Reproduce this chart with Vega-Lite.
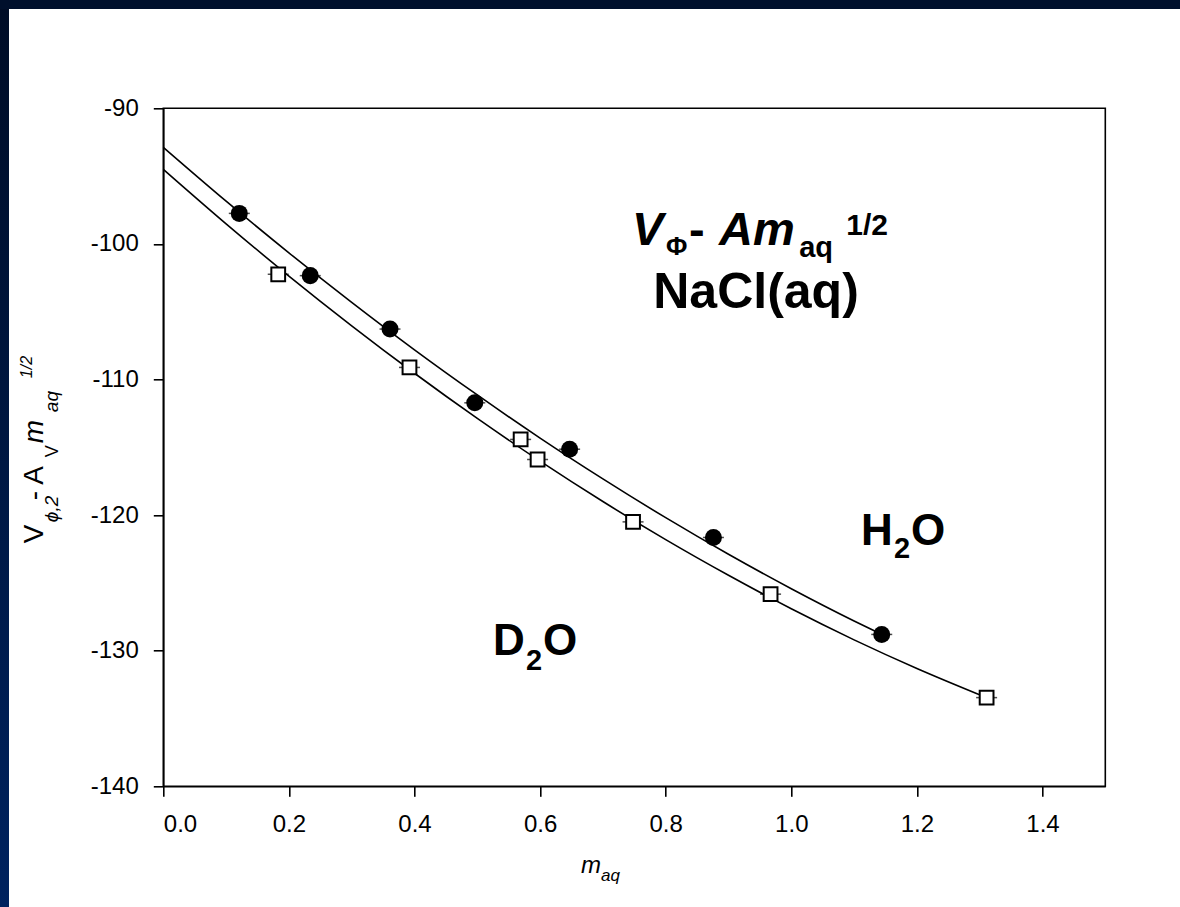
{
  "$schema": "https://vega.github.io/schema/vega-lite/v6.json",
  "width": 942,
  "height": 678,
  "autosize": {"type": "none"},
  "padding": {"left": 163.3, "top": 108.3, "right": 74.7, "bottom": 120.7},
  "background": "white",
  "config": {
    "font": "Liberation Sans",
    "view": {"stroke": "black", "strokeWidth": 1.6},
    "axis": {
      "grid": false,
      "domainColor": "black",
      "domainWidth": 1.6,
      "tickColor": "black",
      "tickWidth": 1.6,
      "tickSize": 10,
      "labelFont": "Liberation Sans",
      "labelFontSize": 24,
      "labelColor": "black",
      "zindex": 1
    }
  },
  "data": {"values": [{}]},
  "datasets": {
    "points": [
      {"solvent": "H2O", "m": 0.121, "v": -97.75},
      {"solvent": "H2O", "m": 0.234, "v": -102.34},
      {"solvent": "H2O", "m": 0.361, "v": -106.28},
      {"solvent": "H2O", "m": 0.496, "v": -111.72},
      {"solvent": "H2O", "m": 0.647, "v": -115.14},
      {"solvent": "H2O", "m": 0.876, "v": -121.65},
      {"solvent": "H2O", "m": 1.144, "v": -128.8},
      {"solvent": "D2O", "m": 0.183, "v": -102.24},
      {"solvent": "D2O", "m": 0.392, "v": -109.11},
      {"solvent": "D2O", "m": 0.569, "v": -114.42},
      {"solvent": "D2O", "m": 0.596, "v": -115.9},
      {"solvent": "D2O", "m": 0.748, "v": -120.5},
      {"solvent": "D2O", "m": 0.967, "v": -125.83},
      {"solvent": "D2O", "m": 1.311, "v": -133.46}
    ],
    "fits": [
      {"solvent": "H2O", "m": 0.0, "v": -92.88},
      {"solvent": "H2O", "m": 0.1, "v": -96.85},
      {"solvent": "H2O", "m": 0.2, "v": -100.66},
      {"solvent": "H2O", "m": 0.3, "v": -104.31},
      {"solvent": "H2O", "m": 0.4, "v": -107.81},
      {"solvent": "H2O", "m": 0.5, "v": -111.14},
      {"solvent": "H2O", "m": 0.6, "v": -114.32},
      {"solvent": "H2O", "m": 0.7, "v": -117.33},
      {"solvent": "H2O", "m": 0.8, "v": -120.19},
      {"solvent": "H2O", "m": 0.9, "v": -122.89},
      {"solvent": "H2O", "m": 1.0, "v": -125.43},
      {"solvent": "H2O", "m": 1.1, "v": -127.81},
      {"solvent": "H2O", "m": 1.144, "v": -128.8},
      {"solvent": "D2O", "m": 0.0, "v": -94.5},
      {"solvent": "D2O", "m": 0.1, "v": -98.52},
      {"solvent": "D2O", "m": 0.2, "v": -102.37},
      {"solvent": "D2O", "m": 0.3, "v": -106.04},
      {"solvent": "D2O", "m": 0.4, "v": -109.54},
      {"solvent": "D2O", "m": 0.5, "v": -112.87},
      {"solvent": "D2O", "m": 0.6, "v": -116.02},
      {"solvent": "D2O", "m": 0.7, "v": -119.0},
      {"solvent": "D2O", "m": 0.8, "v": -121.81},
      {"solvent": "D2O", "m": 0.9, "v": -124.44},
      {"solvent": "D2O", "m": 1.0, "v": -126.91},
      {"solvent": "D2O", "m": 1.1, "v": -129.2},
      {"solvent": "D2O", "m": 1.2, "v": -131.31},
      {"solvent": "D2O", "m": 1.311, "v": -133.46}
    ]
  },
  "layer": [
    {
      "mark": {"type": "rect", "color": {"gradient": "linear", "x1": 0, "y1": 0, "x2": 0, "y2": 1, "stops": [{"offset": 0, "color": "#000c24"}, {"offset": 1, "color": "#002360"}]}},
      "encoding": {
        "x": {"datum": -0.28, "type": "quantitative", "scale": {"domain": [0, 1.5], "nice": false, "zero": false}},
        "x2": {"datum": -0.2457},
        "y": {"datum": -80, "type": "quantitative", "scale": {"domain": [-140, -90], "nice": false, "zero": false}},
        "y2": {"datum": -150}
      }
    },
    {
      "mark": {"type": "rect", "color": "#00102c"},
      "encoding": {
        "x": {"datum": -0.28, "type": "quantitative", "scale": {"domain": [0, 1.5], "nice": false, "zero": false}},
        "x2": {"datum": 1.7},
        "y": {"datum": -80, "type": "quantitative", "scale": {"domain": [-140, -90], "nice": false, "zero": false}},
        "y2": {"datum": -82.67}
      }
    },
    {
      "data": {"name": "fits"},
      "mark": {"type": "line", "color": "black", "strokeWidth": 1.6, "interpolate": "monotone"},
      "encoding": {
        "x": {"field": "m", "type": "quantitative", "scale": {"domain": [0, 1.5], "nice": false, "zero": false},
              "axis": {"title": null, "values": [0, 0.2, 0.4, 0.6, 0.8, 1.0, 1.2, 1.4], "format": ".1f", "labelPadding": 16}},
        "y": {"field": "v", "type": "quantitative", "scale": {"domain": [-140, -90], "nice": false, "zero": false},
              "axis": {"title": null, "values": [-140, -130, -120, -110, -100, -90], "labelExpr": "'' + datum.value", "labelPadding": 15}},
        "detail": {"field": "solvent", "type": "nominal"}
      }
    },
    {
      "data": {"name": "points"},
      "mark": {"type": "tick", "orient": "horizontal", "color": "black", "size": 21, "thickness": 1.5},
      "encoding": {
        "x": {"field": "m", "type": "quantitative", "scale": {"domain": [0, 1.5], "nice": false, "zero": false}, "axis": {"title": null}},
        "y": {"field": "v", "type": "quantitative", "scale": {"domain": [-140, -90], "nice": false, "zero": false}, "axis": {"title": null}}
      }
    },
    {
      "data": {"name": "points"},
      "transform": [{"filter": "datum.solvent === 'H2O'"}],
      "mark": {"type": "point", "shape": "circle", "filled": true, "color": "black", "size": 290, "opacity": 1},
      "encoding": {
        "x": {"field": "m", "type": "quantitative", "scale": {"domain": [0, 1.5], "nice": false, "zero": false}, "axis": {"title": null}},
        "y": {"field": "v", "type": "quantitative", "scale": {"domain": [-140, -90], "nice": false, "zero": false}, "axis": {"title": null}}
      }
    },
    {
      "data": {"name": "points"},
      "transform": [{"filter": "datum.solvent === 'D2O'"}],
      "mark": {"type": "point", "shape": "square", "filled": false, "fill": "white", "stroke": "black", "strokeWidth": 2, "size": 190, "opacity": 1, "fillOpacity": 1},
      "encoding": {
        "x": {"field": "m", "type": "quantitative", "scale": {"domain": [0, 1.5], "nice": false, "zero": false}, "axis": {"title": null}},
        "y": {"field": "v", "type": "quantitative", "scale": {"domain": [-140, -90], "nice": false, "zero": false}, "axis": {"title": null}}
      }
    },
    {"mark": {"type": "text", "text": "V", "font": "Liberation Sans", "fontSize": 47, "fontWeight": "bold", "fontStyle": "italic", "align": "left", "baseline": "alphabetic", "color": "black"},
     "encoding": {"x": {"datum": 0.7463, "type": "quantitative"}, "y": {"datum": -100.09, "type": "quantitative"}}},
    {"mark": {"type": "text", "text": "Φ", "font": "Liberation Sans", "fontSize": 26, "fontWeight": "bold", "align": "left", "baseline": "alphabetic", "color": "black"},
     "encoding": {"x": {"datum": 0.8005, "type": "quantitative"}, "y": {"datum": -100.83, "type": "quantitative"}}},
    {"mark": {"type": "text", "text": "-", "font": "Liberation Sans", "fontSize": 47, "fontWeight": "bold", "align": "left", "baseline": "alphabetic", "color": "black"},
     "encoding": {"x": {"datum": 0.8371, "type": "quantitative"}, "y": {"datum": -100.09, "type": "quantitative"}}},
    {"mark": {"type": "text", "text": "Am", "font": "Liberation Sans", "fontSize": 47, "fontWeight": "bold", "fontStyle": "italic", "align": "left", "baseline": "alphabetic", "color": "black"},
     "encoding": {"x": {"datum": 0.8849, "type": "quantitative"}, "y": {"datum": -100.09, "type": "quantitative"}}},
    {"mark": {"type": "text", "text": "aq", "font": "Liberation Sans", "fontSize": 29, "fontWeight": "bold", "align": "left", "baseline": "alphabetic", "color": "black"},
     "encoding": {"x": {"datum": 1.0125, "type": "quantitative"}, "y": {"datum": -101.0, "type": "quantitative"}}},
    {"mark": {"type": "text", "text": "1/2", "font": "Liberation Sans", "fontSize": 30, "fontWeight": "bold", "align": "left", "baseline": "alphabetic", "color": "black"},
     "encoding": {"x": {"datum": 1.0875, "type": "quantitative"}, "y": {"datum": -99.35, "type": "quantitative"}}},
    {"mark": {"type": "text", "text": "NaCl(aq)", "font": "Liberation Sans", "fontSize": 50, "fontWeight": "bold", "align": "center", "baseline": "alphabetic", "color": "black"},
     "encoding": {"x": {"datum": 0.9438, "type": "quantitative"}, "y": {"datum": -104.7, "type": "quantitative"}}},
    {"mark": {"type": "text", "text": "H", "font": "Liberation Sans", "fontSize": 44, "fontWeight": "bold", "align": "left", "baseline": "alphabetic", "color": "black"},
     "encoding": {"x": {"datum": 1.1109, "type": "quantitative"}, "y": {"datum": -122.18, "type": "quantitative"}}},
    {"mark": {"type": "text", "text": "2", "font": "Liberation Sans", "fontSize": 29, "fontWeight": "bold", "align": "left", "baseline": "alphabetic", "color": "black"},
     "encoding": {"x": {"datum": 1.1635, "type": "quantitative"}, "y": {"datum": -123.18, "type": "quantitative"}}},
    {"mark": {"type": "text", "text": "O", "font": "Liberation Sans", "fontSize": 44, "fontWeight": "bold", "align": "left", "baseline": "alphabetic", "color": "black"},
     "encoding": {"x": {"datum": 1.1906, "type": "quantitative"}, "y": {"datum": -122.18, "type": "quantitative"}}},
    {"mark": {"type": "text", "text": "D", "font": "Liberation Sans", "fontSize": 44, "fontWeight": "bold", "align": "left", "baseline": "alphabetic", "color": "black"},
     "encoding": {"x": {"datum": 0.525, "type": "quantitative"}, "y": {"datum": -130.35, "type": "quantitative"}}},
    {"mark": {"type": "text", "text": "2", "font": "Liberation Sans", "fontSize": 29, "fontWeight": "bold", "align": "left", "baseline": "alphabetic", "color": "black"},
     "encoding": {"x": {"datum": 0.5776, "type": "quantitative"}, "y": {"datum": -131.45, "type": "quantitative"}}},
    {"mark": {"type": "text", "text": "O", "font": "Liberation Sans", "fontSize": 44, "fontWeight": "bold", "align": "left", "baseline": "alphabetic", "color": "black"},
     "encoding": {"x": {"datum": 0.6046, "type": "quantitative"}, "y": {"datum": -130.35, "type": "quantitative"}}},
    {"mark": {"type": "text", "text": "m", "font": "Liberation Sans", "fontSize": 24, "fontStyle": "italic", "align": "left", "baseline": "alphabetic", "color": "black"},
     "encoding": {"x": {"datum": 0.6651, "type": "quantitative"}, "y": {"datum": -146.42, "type": "quantitative"}}},
    {"mark": {"type": "text", "text": "aq", "font": "Liberation Sans", "fontSize": 17, "fontStyle": "italic", "align": "left", "baseline": "alphabetic", "color": "black"},
     "encoding": {"x": {"datum": 0.6970, "type": "quantitative"}, "y": {"datum": -147.0, "type": "quantitative"}}},
    {"mark": {"type": "text", "text": "V", "angle": 270, "font": "Liberation Sans", "fontSize": 28, "align": "left", "baseline": "alphabetic", "color": "black"},
     "encoding": {"x": {"datum": -0.1916, "type": "quantitative"}, "y": {"datum": -122.07, "type": "quantitative"}}},
    {"mark": {"type": "text", "text": "ϕ,2", "angle": 270, "font": "Liberation Sans", "fontSize": 19, "fontStyle": "italic", "align": "left", "baseline": "alphabetic", "color": "black"},
     "encoding": {"x": {"datum": -0.1677, "type": "quantitative"}, "y": {"datum": -120.52, "type": "quantitative"}}},
    {"mark": {"type": "text", "text": " - A", "angle": 270, "font": "Liberation Sans", "fontSize": 28, "align": "left", "baseline": "alphabetic", "color": "black"},
     "encoding": {"x": {"datum": -0.1916, "type": "quantitative"}, "y": {"datum": -118.9, "type": "quantitative"}}},
    {"mark": {"type": "text", "text": "V", "angle": 270, "font": "Liberation Sans", "fontSize": 18, "align": "left", "baseline": "alphabetic", "color": "black"},
     "encoding": {"x": {"datum": -0.1677, "type": "quantitative"}, "y": {"datum": -115.73, "type": "quantitative"}}},
    {"mark": {"type": "text", "text": "m", "angle": 270, "font": "Liberation Sans", "fontSize": 28, "fontStyle": "italic", "align": "left", "baseline": "alphabetic", "color": "black"},
     "encoding": {"x": {"datum": -0.1916, "type": "quantitative"}, "y": {"datum": -114.70, "type": "quantitative"}}},
    {"mark": {"type": "text", "text": "aq", "angle": 270, "font": "Liberation Sans", "fontSize": 19, "fontStyle": "italic", "align": "left", "baseline": "alphabetic", "color": "black"},
     "encoding": {"x": {"datum": -0.1677, "type": "quantitative"}, "y": {"datum": -112.41, "type": "quantitative"}}},
    {"mark": {"type": "text", "text": "1/2", "angle": 270, "font": "Liberation Sans", "fontSize": 16, "fontStyle": "italic", "align": "left", "baseline": "alphabetic", "color": "black"},
     "encoding": {"x": {"datum": -0.2091, "type": "quantitative"}, "y": {"datum": -109.90, "type": "quantitative"}}}
  ]
}
